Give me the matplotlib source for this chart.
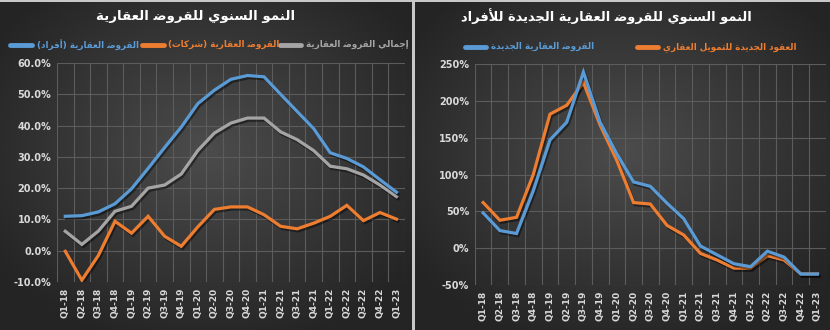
import numpy as np
import matplotlib
matplotlib.use("Agg")
import matplotlib.pyplot as plt
from matplotlib.lines import Line2D
import matplotlib.patheffects as pe

# ---- data ----
quarters = ['Q1-18', 'Q2-18', 'Q3-18', 'Q4-18', 'Q1-19', 'Q2-19', 'Q3-19', 'Q4-19',
            'Q1-20', 'Q2-20', 'Q3-20', 'Q4-20', 'Q1-21', 'Q2-21', 'Q3-21', 'Q4-21',
            'Q1-22', 'Q2-22', 'Q3-22', 'Q4-22', 'Q1-23']

# left chart: annual growth of real estate loans (%)
loans_individuals = [11.0, 11.2, 12.4, 15.0, 19.8, 26.3, 33.0, 39.5, 47.0, 51.3, 54.8, 56.0,
                     55.6, 50.0, 44.5, 39.0, 31.3, 29.5, 26.8, 22.7, 18.7]
loans_companies = [-0.2, -9.4, -1.5, 9.4, 5.6, 11.0, 4.6, 1.4, 7.6, 13.2, 14.0, 14.0,
                   11.5, 7.8, 7.0, 8.8, 11.0, 14.5, 9.6, 12.2, 10.1]
loans_total = [6.2, 2.0, 6.3, 12.6, 14.2, 20.0, 21.0, 24.5, 32.0, 37.6, 40.8, 42.4,
               42.4, 38.0, 35.5, 32.0, 27.0, 26.2, 24.2, 21.0, 17.3]

# right chart: annual growth of new real estate loans for individuals (%)
new_loans = [48, 24, 20, 78, 147, 171, 239, 171, 128, 90, 84, 61,
             40, 3, -9, -21, -25, -4, -12, -35, -35]
new_contracts = [62, 38, 42, 100, 182, 194, 225, 167, 119, 62, 60, 31,
                 18, -7, -16, -27, -27, -10, -16, -35, -35]

title_left = 'النمو السنوي للقروض العقارية'
title_right = 'النمو السنوي للقروض العقارية الجديدة للأفراد'
lbl_ind = 'القروض العقارية (أفراد)'
lbl_comp = 'القروض العقارية (شركات)'
lbl_total = 'إجمالي القروض العقارية'
lbl_new_loans = 'القروض العقارية الجديدة'
lbl_new_contracts = 'العقود الجديدة للتمويل العقاري'

BLUE = '#5b9bd5'
ORANGE = '#ed7d31'
GRAY = '#a5a5a5'
TXT = '#d9d9d9'

# ---- tiny arabic shaper (matplotlib has no bidi / joining) ----
FORMS = {
    'ا': (0xFE8D, 0xFE8E), 'أ': (0xFE83, 0xFE84), 'إ': (0xFE87, 0xFE88),
    'د': (0xFEA9, 0xFEAA), 'ر': (0xFEAD, 0xFEAE), 'و': (0xFEED, 0xFEEE),
    'ة': (0xFE93, 0xFE94),
    'ب': (0xFE8F, 0xFE90, 0xFE91, 0xFE92), 'ت': (0xFE95, 0xFE96, 0xFE97, 0xFE98),
    'ج': (0xFE9D, 0xFE9E, 0xFE9F, 0xFEA0), 'س': (0xFEB1, 0xFEB2, 0xFEB3, 0xFEB4),
    'ش': (0xFEB5, 0xFEB6, 0xFEB7, 0xFEB8), 'ض': (0xFEBF, 0xFEC0, 0xFEC1, 0xFEC2),
    'ع': (0xFEC9, 0xFECA, 0xFECB, 0xFECC), 'ف': (0xFED1, 0xFED2, 0xFED3, 0xFED4),
    'ق': (0xFED5, 0xFED6, 0xFED7, 0xFED8), 'ك': (0xFED9, 0xFEDA, 0xFEDB, 0xFEDC),
    'ل': (0xFEDD, 0xFEDE, 0xFEDF, 0xFEE0), 'م': (0xFEE1, 0xFEE2, 0xFEE3, 0xFEE4),
    'ن': (0xFEE5, 0xFEE6, 0xFEE7, 0xFEE8), 'ه': (0xFEE9, 0xFEEA, 0xFEEB, 0xFEEC),
    'ي': (0xFEF1, 0xFEF2, 0xFEF3, 0xFEF4),
}
LAM_ALEF = {'ا': (0xFEFB, 0xFEFC), 'أ': (0xFEF7, 0xFEF8), 'إ': (0xFEF9, 0xFEFA)}


def dual(c):
    return c in FORMS and len(FORMS[c]) == 4


def ar(text):
    out = []
    i = 0
    n = len(text)
    while i < n:
        c = text[i]
        prev = text[i - 1] if i > 0 else ''
        join_prev = dual(prev)
        if c == 'ل' and i + 1 < n and text[i + 1] in LAM_ALEF:
            f = LAM_ALEF[text[i + 1]]
            out.append(chr(f[1] if join_prev else f[0]))
            i += 2
            continue
        if c not in FORMS:
            out.append(c)
            i += 1
            continue
        nxt = text[i + 1] if i + 1 < n else ''
        join_next = dual(c) and nxt in FORMS
        f = FORMS[c]
        if join_prev and join_next:
            g = f[3]
        elif join_prev:
            g = f[1]
        elif join_next:
            g = f[2]
        else:
            g = f[0]
        out.append(chr(g))
        i += 1
    s = ''.join(reversed(out))
    return s.translate(str.maketrans('()', ')('))


def gradient_bg(fig, rect):
    bg = fig.add_axes(rect, zorder=-10)
    h, w = 200, 300
    yy, xx = np.mgrid[0:h, 0:w]
    r = np.sqrt(((xx - w * 0.5) / (w * 0.62)) ** 2 + ((yy - h * 0.45) / (h * 0.62)) ** 2)
    r = np.clip(r, 0, 1)
    c0 = np.array([0x4c, 0x4c, 0x4c]) / 255.0
    c1 = np.array([0x24, 0x24, 0x24]) / 255.0
    img = c0[None, None, :] * (1 - r[..., None]) + c1[None, None, :] * r[..., None]
    bg.imshow(img, aspect='auto', extent=(0, 1, 0, 1))
    bg.set_axis_off()


def style_axes(ax, ylim, yticks, fmt):
    ax.set_facecolor('none')
    ax.set_xlim(-0.5, len(quarters) - 0.5)
    ax.set_ylim(*ylim)
    ax.set_yticks(yticks)
    ax.set_yticklabels([fmt % v for v in yticks], color=TXT, fontsize=7, fontweight='bold')
    ax.set_xticks(range(len(quarters)))
    ax.set_xticklabels(quarters, rotation=90, color=TXT, fontsize=6.5, fontweight='bold')
    ax.set_xticks(np.arange(-0.5, len(quarters), 1), minor=True)
    ax.grid(True, axis='y', which='major', color='#5c5c5c', linewidth=0.8)
    ax.grid(True, axis='x', which='minor', color='#5c5c5c', linewidth=0.8)
    ax.tick_params(axis='both', which='both', length=0, pad=4)
    for s in ax.spines.values():
        s.set_visible(False)


def line(ax, vals, color):
    x = np.arange(len(vals))
    ax.plot(x, vals, color=color, linewidth=2.3, solid_joinstyle='miter', zorder=3,
            path_effects=[pe.SimpleLineShadow(offset=(1, -1.5), shadow_color='black', alpha=0.45),
                          pe.Normal()])


def legend_item(fig, x, y, color, label):
    fig.lines.append(Line2D([x, x + 0.026], [y, y], transform=fig.transFigure,
                           color=color, linewidth=3.5, solid_capstyle='round'))
    fig.text(x + 0.032, y, ar(label), color=color, fontsize=6.3, fontweight='bold',
             ha='left', va='center', family='DejaVu Sans')


fig = plt.figure(figsize=(8.3, 3.3), dpi=100)
fig.patch.set_facecolor('#c8c8c8')

gradient_bg(fig, [0.0, 0.0, 0.4955, 0.995])
gradient_bg(fig, [0.5, 0.0, 0.5, 0.995])

# left chart
ax1 = fig.add_axes([0.0687, 0.1455, 0.419, 0.6635])
style_axes(ax1, (-10, 60), list(range(-10, 61, 10)), '%.1f%%')
line(ax1, loans_total, GRAY)
line(ax1, loans_companies, ORANGE)
line(ax1, loans_individuals, BLUE)

fig.text(0.236, 0.95, ar(title_left), color='white', fontsize=9.6, fontweight='bold',
         ha='center', va='center', family='DejaVu Sans')
legend_item(fig, 0.012, 0.864, BLUE, lbl_ind)
legend_item(fig, 0.171, 0.864, ORANGE, lbl_comp)
legend_item(fig, 0.337, 0.864, GRAY, lbl_total)

# right chart
ax2 = fig.add_axes([0.572, 0.136, 0.423, 0.670])
style_axes(ax2, (-50, 250), list(range(-50, 251, 50)), '%d%%')
line(ax2, new_contracts, ORANGE)
line(ax2, new_loans, BLUE)

fig.text(0.731, 0.95, ar(title_right), color='white', fontsize=9.4, fontweight='bold',
         ha='center', va='center', family='DejaVu Sans')
legend_item(fig, 0.560, 0.858, BLUE, lbl_new_loans)
legend_item(fig, 0.767, 0.858, ORANGE, lbl_new_contracts)

fig.savefig('out.png', dpi=100, facecolor=fig.get_facecolor())
